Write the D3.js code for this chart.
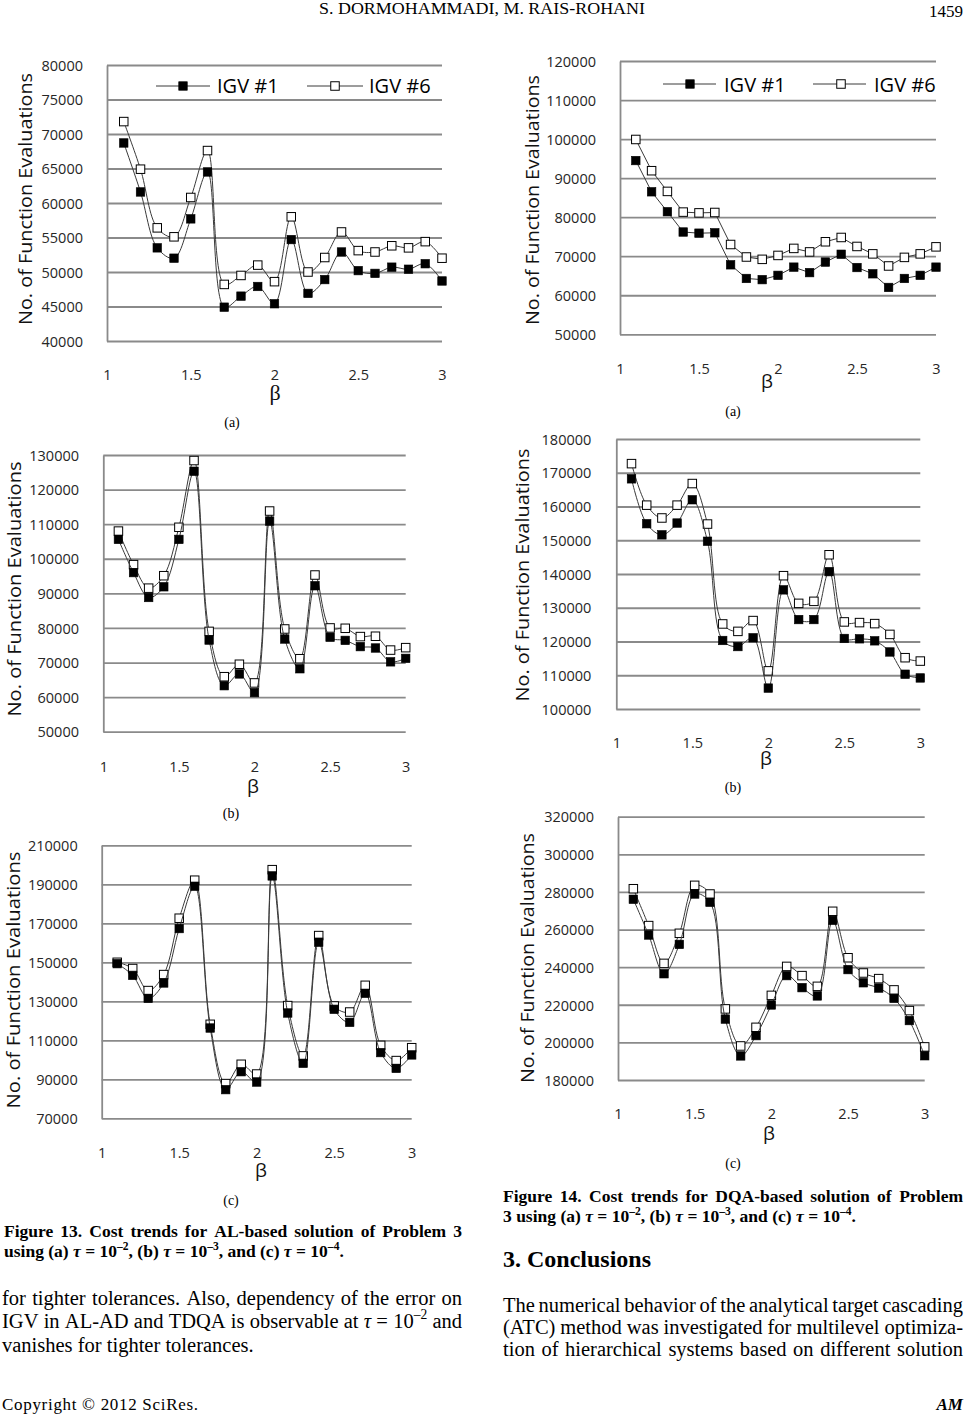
<!DOCTYPE html>
<html><head><meta charset="utf-8">
<script src="https://cdn.jsdelivr.net/npm/d3@7"></script>
<style>body{margin:0;background:#fff}svg{display:block}</style>
</head><body>
<svg id="page" width="966" height="1414"></svg>
<script>
// ---------- DATA ----------
const beta = [1.1,1.2,1.3,1.4,1.5,1.6,1.7,1.8,1.9,2.0,2.1,2.2,2.3,2.4,2.5,2.6,2.7,2.8,2.9,3.0];
const xTickLabels = [1, 1.5, 2, 2.5, 3];
const seriesNames = ["IGV #1", "IGV #6"];

const fig13a_igv1 = [68700,61600,53500,52000,57700,64500,44900,46500,47900,45400,54700,46900,48900,52900,50200,49800,50700,50400,51200,48700];
const fig13a_igv6 = [71800,64900,56400,55100,60800,67600,48200,49500,51000,48600,58000,50000,52100,55800,53100,52900,53800,53500,54400,52000];
const fig13a_yTicks = [40000,45000,50000,55000,60000,65000,70000,75000,80000];

const fig14a_igv1 = [94500,86500,81400,76200,75900,76000,67800,64300,64000,65100,67200,65800,68500,70500,67100,65500,62000,64300,65100,67200];
const fig14a_igv6 = [99900,91900,86600,81300,81100,81200,73000,69800,69200,70200,72000,71100,73700,74800,72500,70600,67500,69700,70600,72400];
const fig14a_yTicks = [50000,60000,70000,80000,90000,100000,110000,120000];

const fig13b_igv1 = [105600,96000,88800,91900,105600,125300,76500,63300,66700,61300,110900,76800,68200,92200,77300,76400,74600,74200,70200,71200];
const fig13b_igv6 = [108000,98300,91500,95100,109100,128400,79000,65900,69500,64100,113800,79700,71100,95300,80000,79900,77500,77600,73600,74300];
const fig13b_yTicks = [50000,60000,70000,80000,90000,100000,110000,120000,130000];

const fig14b_igv1 = [168200,154900,151600,155100,162000,149700,120300,118500,121100,106200,135300,126500,126500,140700,120900,120800,120200,116900,110300,109200];
const fig14b_igv6 = [172700,160400,156600,160400,166800,154800,125200,123000,126200,111300,139500,131300,131900,145700,125800,125600,125300,122100,115200,114200];
const fig14b_yTicks = [100000,110000,120000,130000,140000,150000,160000,170000,180000];

const fig13c_igv1 = [149300,143300,131500,139400,167300,189000,116300,84700,93900,88600,194300,124000,98200,160300,125900,119200,134100,103700,95600,102500];
const fig13c_igv6 = [150000,146800,135500,143700,172600,192100,118200,87800,97700,92700,197500,127800,102000,163700,127600,124500,138200,107400,99600,106200];
const fig13c_yTicks = [70000,90000,110000,130000,150000,170000,190000,210000];

const fig14c_igv1 = [276100,257100,236500,252100,278900,274500,212400,192800,203600,219900,235500,229100,224700,264900,238700,231700,228900,223400,211600,192900];
const fig14c_igv6 = [281700,262100,242000,258000,283500,278900,217800,198100,208000,225000,240400,235500,229800,269700,245000,236900,233900,227900,216900,197600];
const fig14c_yTicks = [180000,200000,220000,240000,260000,280000,300000,320000];

// ---------- LAYOUT ----------
const SANS = "'Open Sans', 'Noto Sans', sans-serif";
const SERIF = "'Liberation Serif', 'DejaVu Serif', serif";
const GRID = "#8a8a8a";

const charts = [
  {igv1: fig13a_igv1, igv6: fig13a_igv6, yTicks: fig13a_yTicks, left:107, right:442, top:65, bottom:341,
   labelRight:83, xLabelY:380, betaX:275, betaY:400, betaSerif:true, titleX:32, titleY:199, titleLen:252, smooth:true,
   legend:{y:86, textY:92.5, items:[{x0:156,x1:210,m:183,t:217},{x0:307,x1:363,m:335,t:369}]}, caption:{x:232,y:427,t:"(a)"}},
  {igv1: fig14a_igv1, igv6: fig14a_igv6, yTicks: fig14a_yTicks, left:620, right:936, top:61, bottom:334.3,
   labelRight:596, xLabelY:374, betaX:767, betaY:388, betaSerif:false, titleX:539, titleY:200, titleLen:250, smooth:false,
   legend:{y:84, textY:91.5, items:[{x0:663,x1:716,m:690,t:724},{x0:813,x1:866,m:841,t:874}]}, caption:{x:733,y:416,t:"(a)"}},
  {igv1: fig13b_igv1, igv6: fig13b_igv6, yTicks: fig13b_yTicks, left:103.3, right:405.7, top:455, bottom:731.7,
   labelRight:79, xLabelY:771.5, betaX:253, betaY:793, betaSerif:false, titleX:21, titleY:589, titleLen:255, smooth:true,
   caption:{x:231,y:818,t:"(b)"}},
  {igv1: fig14b_igv1, igv6: fig14b_igv6, yTicks: fig14b_yTicks, left:616.3, right:920.3, top:439, bottom:709,
   labelRight:591.3, xLabelY:748, betaX:766, betaY:765, betaSerif:false, titleX:528.7, titleY:575, titleLen:253, smooth:true,
   caption:{x:733,y:792,t:"(b)"}},
  {igv1: fig13c_igv1, igv6: fig13c_igv6, yTicks: fig13c_yTicks, left:101.7, right:411.7, top:845.3, bottom:1118.3,
   labelRight:77.7, xLabelY:1158, betaX:261, betaY:1177, betaSerif:false, titleX:20, titleY:980, titleLen:257, smooth:true,
   caption:{x:231,y:1205,t:"(c)"}},
  {igv1: fig14c_igv1, igv6: fig14c_igv6, yTicks: fig14c_yTicks, left:618, right:924.7, top:816.7, bottom:1080,
   labelRight:594, xLabelY:1119, betaX:769, betaY:1140, betaSerif:false, titleX:534, titleY:958, titleLen:250, smooth:true,
   caption:{x:733,y:1168,t:"(c)"}}
];

const svg = d3.select('#page');
svg.append('rect').attr('width',966).attr('height',1414).attr('fill','#fff');

function square(g, cx, cy, filled, s) {
  g.append('rect').attr('x', cx - s/2).attr('y', cy - s/2).attr('width', s).attr('height', s)
    .attr('fill', filled ? '#000' : '#fff').attr('stroke', '#000').attr('stroke-width', filled ? 0.6 : 1);
}

function drawChart(c) {
  const x = d3.scaleLinear().domain([1, 3]).range([c.left, c.right]);
  const y = d3.scaleLinear().domain([d3.min(c.yTicks), d3.max(c.yTicks)]).range([c.bottom, c.top]);
  const g = svg.append('g');

  // y axis + gridlines
  const ya = g.append('g').attr('transform', `translate(${c.left},0)`)
    .call(d3.axisLeft(y).tickValues(c.yTicks).tickSize(-(c.right - c.left)).tickSizeOuter(0)
      .tickPadding(c.left - c.labelRight).tickFormat(d => String(d)));
  ya.select('.domain').attr('stroke', GRID).attr('stroke-width', 1.8);
  ya.selectAll('.tick line').attr('stroke', GRID).attr('stroke-width', 1.8);
  ya.selectAll('.tick text').attr('font-family', SANS).attr('font-size', 14.5).attr('fill', '#262626').attr('dy', '0.36em');

  // x axis labels
  const xa = g.append('g').attr('transform', `translate(0,${c.xLabelY})`)
    .call(d3.axisBottom(x).tickValues(xTickLabels).tickSize(0).tickFormat(d => String(d)));
  xa.select('.domain').remove();
  xa.selectAll('.tick text').attr('y', 0).attr('dy', 0).attr('font-family', SANS).attr('font-size', 14.5).attr('fill', '#262626');

  // beta label
  g.append('text').attr('x', c.betaX).attr('y', c.betaY).attr('text-anchor', 'middle')
    .attr('font-family', c.betaSerif ? SERIF : SANS).attr('font-size', c.betaSerif ? 22 : 19).attr('fill', '#111').text('β');

  // y title
  g.append('text').attr('transform', `translate(${c.titleX},${c.titleY}) rotate(-90)`)
    .attr('text-anchor', 'middle').attr('font-family', SANS).attr('font-size', 19).attr('fill', '#111')
    .attr('textLength', c.titleLen).attr('lengthAdjust', 'spacingAndGlyphs')
    .text('No. of Function Evaluations');

  const curve = c.smooth ? d3.curveCatmullRom.alpha(0.5) : d3.curveLinear;
  const line = d3.line().x((d, i) => x(beta[i])).y(d => y(d)).curve(curve);

  // IGV #6 (open)
  g.append('path').attr('d', line(c.igv6)).attr('fill', 'none').attr('stroke', '#3a3a3a').attr('stroke-width', 1);
  c.igv6.forEach((v, i) => square(g, x(beta[i]), y(v), false, 8.5));
  // IGV #1 (filled)
  g.append('path').attr('d', line(c.igv1)).attr('fill', 'none').attr('stroke', '#3a3a3a').attr('stroke-width', 1);
  c.igv1.forEach((v, i) => square(g, x(beta[i]), y(v), true, 8.5));

  if (c.legend) {
    c.legend.items.forEach((it, k) => {
      g.append('line').attr('x1', it.x0).attr('x2', it.x1).attr('y1', c.legend.y).attr('y2', c.legend.y)
        .attr('stroke', '#3a3a3a').attr('stroke-width', 1);
      square(g, it.m, c.legend.y, k === 0, 8.5);
      g.append('text').attr('x', it.t).attr('y', c.legend.textY).attr('font-family', SANS).attr('font-size', 20)
        .attr('fill', '#000').text(seriesNames[k]);
    });
  }

  svg.append('text').attr('x', c.caption.x).attr('y', c.caption.y).attr('text-anchor', 'middle')
    .attr('font-family', SERIF).attr('font-size', 14).attr('fill', '#000').text(c.caption.t);
}
charts.forEach(drawChart);

// ---------- TEXT ----------
function textLine(str, x0, x1, y, opts) {
  const size = opts.size, weight = opts.weight || 'normal';
  const words = str.split(' ');
  const nodes = words.map(w => {
    const t = svg.append('text').attr('y', y).attr('font-family', SERIF).attr('font-size', size)
      .attr('font-weight', weight).attr('fill', '#000');
    const parts = w.split(/(\{[^}]*\})/).filter(s => s.length);
    let raised = false;
    parts.forEach(p => {
      if (p.startsWith('{')) {
        t.append('tspan').attr('font-size', size * 0.66).attr('dy', -size * 0.42).text(p.slice(1, -1));
        raised = true;
      } else {
        const ts = t.append('tspan').text(p);
        if (p === 'τ') ts.attr('font-style', 'italic');
        if (raised) { ts.attr('dy', size * 0.42); raised = false; }
      }
    });
    return t;
  });
  const widths = nodes.map(n => n.node().getComputedTextLength());
  const total = d3.sum(widths);
  const gap = opts.justify && nodes.length > 1 ? (x1 - x0 - total) / (nodes.length - 1) : size * 0.25;
  let pos = x0;
  nodes.forEach((n, i) => { n.attr('x', pos); pos += widths[i] + gap; });
}

// header
svg.append('text').attr('x', 482).attr('y', 14).attr('text-anchor', 'middle').attr('font-family', SERIF)
  .attr('font-size', 16).attr('textLength', 326).attr('lengthAdjust', 'spacingAndGlyphs').text('S. DORMOHAMMADI, M. RAIS-ROHANI');
svg.append('text').attr('x', 963).attr('y', 17).attr('text-anchor', 'end').attr('font-family', SERIF)
  .attr('font-size', 17).text('1459');

// left column
textLine('Figure 13. Cost trends for AL-based solution of Problem 3', 4, 462, 1237, {size:17.5, weight:'bold', justify:true});
textLine('using (a) τ = 10{–2}, (b) τ = 10{–3}, and (c) τ = 10{–4}.', 4, 462, 1257, {size:17.5, weight:'bold', justify:false});
textLine('for tighter tolerances. Also, dependency of the error on', 2, 462, 1305, {size:20.5, justify:true});
textLine('IGV in AL-AD and TDQA is observable at τ = 10{–2} and', 2, 462, 1328, {size:20.5, justify:true});
textLine('vanishes for tighter tolerances.', 2, 462, 1352, {size:20.5, justify:false});
svg.append('text').attr('x', 2).attr('y', 1410).attr('font-family', SERIF).attr('font-size', 17)
  .attr('textLength', 196).attr('lengthAdjust', 'spacing').text('Copyright © 2012 SciRes.');

// right column
textLine('Figure 14. Cost trends for DQA-based solution of Problem', 503, 963, 1202, {size:17.5, weight:'bold', justify:true});
textLine('3 using (a) τ = 10{–2}, (b) τ = 10{–3}, and (c) τ = 10{–4}.', 503, 963, 1222, {size:17.5, weight:'bold', justify:false});
textLine('3. Conclusions', 503, 963, 1267, {size:24, weight:'bold', justify:false});
textLine('The numerical behavior of the analytical target cascading', 503, 963, 1312, {size:20.5, justify:true});
textLine('(ATC) method was investigated for multilevel optimiza-', 503, 963, 1334, {size:20.5, justify:true});
textLine('tion of hierarchical systems based on different solution', 503, 963, 1356, {size:20.5, justify:true});
svg.append('text').attr('x', 963).attr('y', 1410).attr('text-anchor', 'end').attr('font-family', SERIF)
  .attr('font-size', 17).attr('font-weight', 'bold').attr('font-style', 'italic').text('AM');
</script>
</body></html>
